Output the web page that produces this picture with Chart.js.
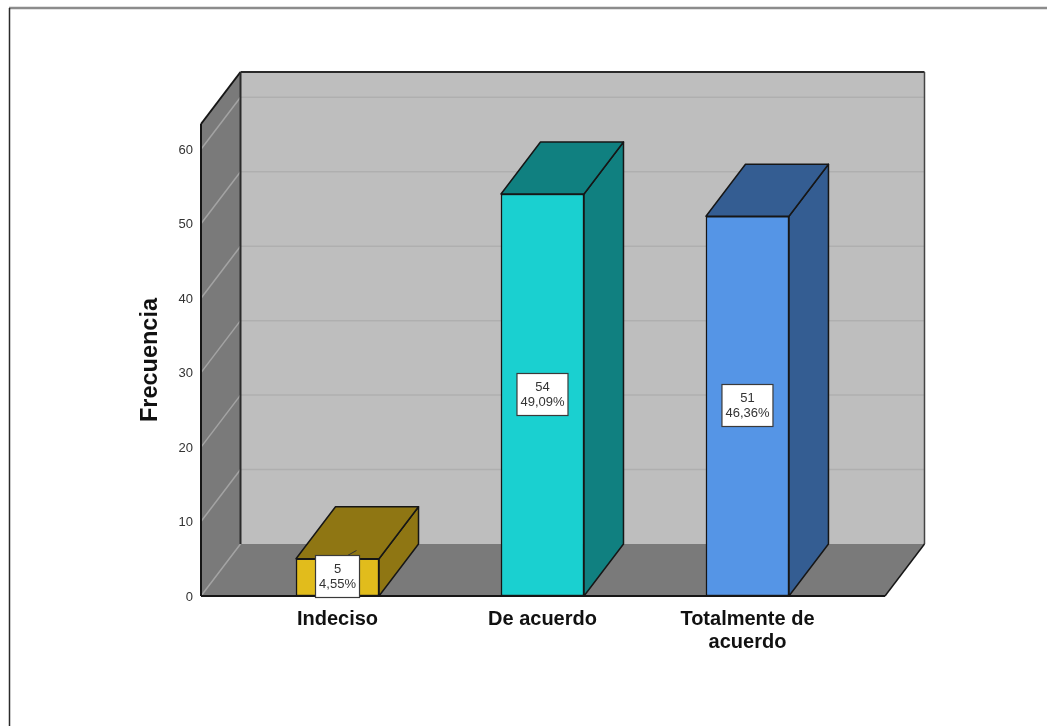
<!DOCTYPE html>
<html>
<head>
<meta charset="utf-8">
<title>Frecuencia</title>
<script src="https://cdn.jsdelivr.net/npm/chart.js@4"></script>
<style>
    html, body { margin: 0; padding: 0; background: #fff; overflow: hidden; }
    #wrap { width: 1047px; height: 726px; }
</style>
</head>
<body>
<div id="wrap"><canvas id="barChart"></canvas></div>
<script>
const categories = ['Indeciso', 'De acuerdo', ['Totalmente de', 'acuerdo']];
const frequencies = [5, 54, 51];
const percentLabels = ['4,55%', '49,09%', '46,36%'];
const frontColors = ['#e1bc1c', '#1ad0d0', '#5595e6'];
const shadeColors = ['#8f7613', '#108080', '#345d92'];
const yTicks = [0, 10, 20, 30, 40, 50, 60];

// how far the back plane is shifted from the front plane
const DEPTH_X = 39.5;
const DEPTH_Y = 52;
const EDGE = '#161616';

function polygon(ctx, pts, fill, stroke, lineWidth) {
    ctx.beginPath();
    pts.forEach((p, i) => i ? ctx.lineTo(p[0], p[1]) : ctx.moveTo(p[0], p[1]));
    ctx.closePath();
    if (fill) {
        ctx.fillStyle = fill;
        ctx.fill();
    }
    if (stroke) {
        ctx.strokeStyle = stroke;
        ctx.lineWidth = lineWidth;
        ctx.stroke();
    }
}

function line(ctx, x1, y1, x2, y2, color, width) {
    ctx.beginPath();
    ctx.moveTo(x1, y1);
    ctx.lineTo(x2, y2);
    ctx.strokeStyle = color;
    ctx.lineWidth = width;
    ctx.stroke();
}

// outer frame, only the top and left sides show
const framePlugin = {
    id: 'frame',
    beforeDraw(chart) {
        const ctx = chart.ctx;
        ctx.save();
        line(ctx, 9, 8, chart.width, 8, '#8c8c8c', 2.5);
        line(ctx, 9.5, 8, 9.5, chart.height, '#2b2b2b', 1.5);
        ctx.restore();
    }
};

// walls, floor and the top and side faces of the bars
const box3dPlugin = {
    id: 'box3d',
    beforeDatasetsDraw(chart) {
        const ctx = chart.ctx;
        const { left, right, top, bottom } = chart.chartArea;
        const yScale = chart.scales.y;
        ctx.save();
        ctx.lineJoin = 'round';

        polygon(ctx, [[left + DEPTH_X, top - DEPTH_Y], [right + DEPTH_X, top - DEPTH_Y],
            [right + DEPTH_X, bottom - DEPTH_Y], [left + DEPTH_X, bottom - DEPTH_Y]], '#bebebe');
        polygon(ctx, [[left, top], [left + DEPTH_X, top - DEPTH_Y],
            [left + DEPTH_X, bottom - DEPTH_Y], [left, bottom]], '#7a7a7a');
        polygon(ctx, [[left, bottom], [right, bottom],
            [right + DEPTH_X, bottom - DEPTH_Y], [left + DEPTH_X, bottom - DEPTH_Y]], '#7a7a7a');

        yScale.ticks.forEach((tick) => {
            const y = yScale.getPixelForValue(tick.value);
            line(ctx, left, y, left + DEPTH_X, y - DEPTH_Y, '#a3a3a3', 1.5);
            if (tick.value > 0) {
                line(ctx, left + DEPTH_X, y - DEPTH_Y, right + DEPTH_X, y - DEPTH_Y, '#afafaf', 1.5);
            }
        });

        // wall edges
        line(ctx, left, top, left + DEPTH_X, top - DEPTH_Y, EDGE, 2);
        line(ctx, left + DEPTH_X, top - DEPTH_Y, right + DEPTH_X, top - DEPTH_Y, '#2a2a2a', 2);
        line(ctx, left, top, left, bottom, EDGE, 2);
        line(ctx, left + DEPTH_X, top - DEPTH_Y, left + DEPTH_X, bottom - DEPTH_Y, '#2a2a2a', 2);
        line(ctx, right + DEPTH_X, top - DEPTH_Y, right + DEPTH_X, bottom - DEPTH_Y, '#444', 1.5);
        line(ctx, right, bottom, right + DEPTH_X, bottom - DEPTH_Y, EDGE, 1.5);
        line(ctx, left, bottom, right, bottom, EDGE, 2);

        chart.getDatasetMeta(0).data.forEach((bar, i) => {
            const x0 = bar.x - bar.width / 2;
            const x1 = bar.x + bar.width / 2;
            polygon(ctx, [[x1, bar.y], [x1 + DEPTH_X, bar.y - DEPTH_Y],
                [x1 + DEPTH_X, bar.base - DEPTH_Y], [x1, bar.base]], shadeColors[i], EDGE, 1.5);
            polygon(ctx, [[x0, bar.y], [x0 + DEPTH_X, bar.y - DEPTH_Y],
                [x1 + DEPTH_X, bar.y - DEPTH_Y], [x1, bar.y]], shadeColors[i], EDGE, 1.5);
        });
        ctx.restore();
    },
    afterDatasetsDraw(chart) {
        const ctx = chart.ctx;
        ctx.save();
        ctx.font = '13px "Liberation Sans", Arial, sans-serif';
        ctx.textAlign = 'center';
        ctx.textBaseline = 'middle';
        chart.getDatasetMeta(0).data.forEach((bar, i) => {
            const cy = (bar.y + bar.base) / 2;
            const w = Math.round(ctx.measureText(percentLabels[i]).width + 7);
            const h = 42;
            const bx = bar.x - w / 2;
            const by = Math.round(cy - h / 2) - 0.5;
            // short leader on the bar too low to hold its label
            if (by < bar.y) {
                line(ctx, bar.x + 10, by, bar.x + 19, by - 5, '#333', 1);
            }
            ctx.fillStyle = '#fff';
            ctx.strokeStyle = '#3a3a3a';
            ctx.lineWidth = 1.2;
            ctx.fillRect(bx, by, w, h);
            ctx.strokeRect(bx, by, w, h);
            ctx.fillStyle = '#333';
            ctx.fillText(String(frequencies[i]), bar.x, by + 14);
            ctx.fillText(percentLabels[i], bar.x, by + 29);
        });
        ctx.restore();
    }
};

document.addEventListener('DOMContentLoaded', function () {
    const ctx = document.getElementById('barChart').getContext('2d');
    new Chart(ctx, {
        type: 'bar',
        data: {
            datasets: [{
                data: frequencies.map((v, i) => ({ x: i, y: v })),
                backgroundColor: frontColors,
                borderColor: EDGE,
                borderWidth: 1.5,
                borderSkipped: false,
                barThickness: 83,
            }],
        },
        options: {
            responsive: true,
            maintainAspectRatio: false,
            animation: false,
            layout: { padding: { top: 124, right: 162 } },
            plugins: { legend: { display: false }, tooltip: { enabled: false } },
            scales: {
                x: {
                    type: 'linear',
                    offset: false,
                    min: -0.666,
                    max: 2.671,
                    grid: { display: false, drawTicks: false, offset: false },
                    border: { display: false },
                    afterBuildTicks: (scale) => {
                        scale.ticks = categories.map((c, i) => ({ value: i }));
                    },
                    afterFit: (scale) => { scale.height = 130; },
                    ticks: {
                        autoSkip: false,
                        maxRotation: 0,
                        padding: 12,
                        color: '#111',
                        font: { family: '"Liberation Sans", Arial, sans-serif', size: 20, weight: 'bold', lineHeight: 1.15 },
                        callback: (value) => categories[value],
                    },
                },
                y: {
                    min: 0,
                    max: 63.4,
                    grid: { display: false, drawTicks: false },
                    border: { display: false },
                    afterBuildTicks: (scale) => {
                        scale.ticks = yTicks.map((v) => ({ value: v }));
                    },
                    afterFit: (scale) => { scale.width = 201; },
                    title: {
                        display: true,
                        text: 'Frecuencia',
                        color: '#111',
                        padding: { top: 136, bottom: 0 },
                        font: { family: '"Liberation Sans", Arial, sans-serif', size: 23.5, weight: 'bold' },
                    },
                    ticks: {
                        padding: 8,
                        labelOffset: 1,
                        color: '#333',
                        font: { family: '"Liberation Sans", Arial, sans-serif', size: 13 },
                    },
                },
            },
        },
        plugins: [framePlugin, box3dPlugin],
    });
});
</script>
</body>
</html>
